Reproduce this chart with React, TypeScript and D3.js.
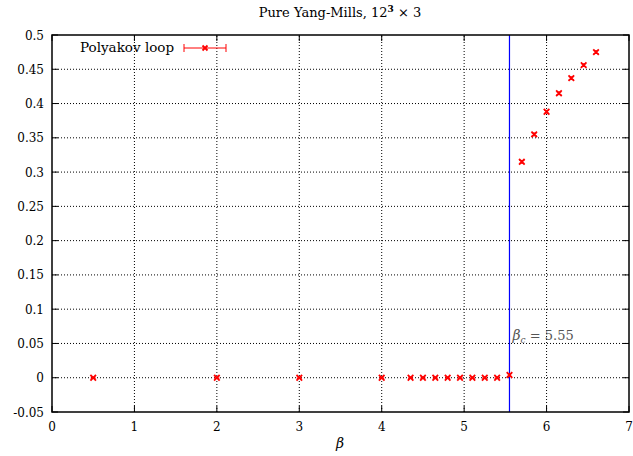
import React from "react";
import * as d3 from "d3";

const betas = [0.5, 2.0, 3.0, 4.0, 4.35, 4.5, 4.65, 4.8, 4.95, 5.1, 5.25, 5.4, 5.55, 5.7, 5.85, 6.0, 6.15, 6.3, 6.45, 6.6];
const polyakov = [0, 0, 0, 0, 0, 0, 0, 0, 0, 0, 0, 0, 0.004, 0.315, 0.355, 0.388, 0.415, 0.437, 0.456, 0.475];
const errors = [0.001, 0.001, 0.001, 0.001, 0.001, 0.001, 0.001, 0.001, 0.001, 0.001, 0.001, 0.001, 0.002, 0.002, 0.002, 0.002, 0.002, 0.002, 0.002, 0.002];
const xTicks = [0, 1, 2, 3, 4, 5, 6, 7];
const yTicks = [-0.05, 0, 0.05, 0.1, 0.15, 0.2, 0.25, 0.3, 0.35, 0.4, 0.45, 0.5];
const betaC = 5.55;

const W = 633, H = 456;
const M = { left: 52, right: 4, top: 35, bottom: 44 };
const font = "'DejaVu Serif', serif";

export default function App() {
  const x = d3.scaleLinear().domain([0, 7]).range([M.left, W - M.right]);
  const y = d3.scaleLinear().domain([-0.05, 0.5]).range([H - M.bottom, M.top]);
  const x0 = x(0), x1 = x(7), y0 = y(-0.05), y1 = y(0.5);
  const red = "#ff0000";
  const mk = (cx: number, cy: number, key: string, s = 3.5) => (
    <g key={key} stroke={red} strokeWidth={1.8}>
      <line x1={cx - s} y1={cy - s} x2={cx + s} y2={cy + s} />
      <line x1={cx - s} y1={cy + s} x2={cx + s} y2={cy - s} />
    </g>
  );
  return (
    <svg width={W} height={H} style={{ position: "absolute", left: 0, top: 0, display: "block", background: "#fff" }}>
      <text x={340} y={17} textAnchor="middle" fontFamily={font} fontSize={13} fill="#000">
        Pure Yang-Mills, 12<tspan dy={-5} fontSize={9} fontWeight="bold">3</tspan><tspan dy={5}> × 3</tspan>
      </text>
      {/* grid */}
      {xTicks.slice(1, -1).map((t) => (
        <line key={"gx" + t} x1={x(t)} x2={x(t)} y1={y0} y2={y1} stroke="#000" strokeWidth={1} strokeDasharray="1,2" />
      ))}
      {yTicks.slice(1, -1).map((t) => (
        <line key={"gy" + t} x1={x0} x2={x1} y1={y(t)} y2={y(t)} stroke="#000" strokeWidth={1} strokeDasharray="1,2" />
      ))}
      {/* ticks */}
      {xTicks.map((t) => (
        <g key={"tx" + t}>
          <line x1={x(t)} x2={x(t)} y1={y0} y2={y0 - 6} stroke="#000" />
          <line x1={x(t)} x2={x(t)} y1={y1} y2={y1 + 6} stroke="#000" />
          <text x={x(t)} y={y0 + 19} textAnchor="middle" fontFamily={font} fontSize={12}>{t}</text>
        </g>
      ))}
      {yTicks.map((t) => (
        <g key={"ty" + t}>
          <line x1={x0} x2={x0 + 6} y1={y(t)} y2={y(t)} stroke="#000" />
          <line x1={x1} x2={x1 - 6} y1={y(t)} y2={y(t)} stroke="#000" />
          <text x={x0 - 8} y={y(t) + 4.5} textAnchor="end" fontFamily={font} fontSize={12}>
            {String(t)}
          </text>
        </g>
      ))}
      <text x={340} y={H - 8} textAnchor="middle" fontFamily={font} fontSize={14} fontStyle="italic">β</text>
      {/* critical line */}
      <line x1={x(betaC)} x2={x(betaC)} y1={y0} y2={y1} stroke="#0000ff" strokeWidth={1.2} />
      <text x={x(betaC) + 3} y={y(0.05) - 3} fontFamily={font} fontSize={13} fill="#555">
        <tspan fontStyle="italic" fontSize={14}>β</tspan><tspan fontStyle="italic" fontSize={9} dy={3}>c</tspan><tspan dy={-3}> = 5.55</tspan>
      </text>
      {/* data */}
      {betas.map((b, i) => (
        <g key={"p" + i}>
          <line x1={x(b) - 2.5} x2={x(b) + 2.5} y1={y(polyakov[i] - errors[i])} y2={y(polyakov[i] - errors[i])} stroke={red} />
          <line x1={x(b) - 2.5} x2={x(b) + 2.5} y1={y(polyakov[i] + errors[i])} y2={y(polyakov[i] + errors[i])} stroke={red} />
          {mk(x(b), y(polyakov[i]), "m" + i, 2.8)}
        </g>
      ))}
      {/* legend */}
      <text x={80} y={52} fontFamily={font} fontSize={13.5}>Polyakov loop</text>
      <g stroke={red} strokeWidth={1}>
        <line x1={184} x2={226} y1={48} y2={48} />
        <line x1={184} x2={184} y1={44} y2={52} />
        <line x1={226} x2={226} y1={44} y2={52} />
      </g>
      {mk(205, 48, "leg", 2.5)}
      {/* frame */}
      <rect x={x0} y={y1} width={x1 - x0} height={y0 - y1} fill="none" stroke="#000" strokeWidth={1.5} />
    </svg>
  );
}
